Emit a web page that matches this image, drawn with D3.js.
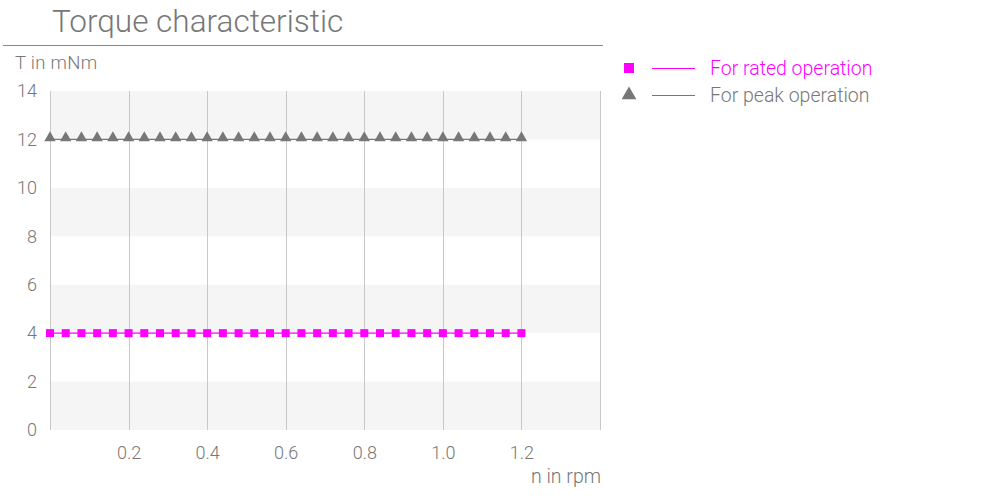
<!DOCTYPE html>
<html><head><meta charset="utf-8">
<script src="https://cdn.jsdelivr.net/npm/d3@7"></script>
<style>body{margin:0;background:#fff;}svg{display:block;font-family:Roboto,"Open Sans",sans-serif;}</style>
</head><body><svg id="c" width="1000" height="500"></svg>
<script>
const speedRpm = [0,0.04,0.08,0.12,0.16,0.2,0.24,0.28,0.32,0.36,0.4,0.44,0.48,0.52,0.56,0.6,0.64,0.68,0.72,0.76,0.8,0.84,0.88,0.92,0.96,1.0,1.04,1.08,1.12,1.16,1.2];
const ratedTorque = [4,4,4,4,4,4,4,4,4,4,4,4,4,4,4,4,4,4,4,4,4,4,4,4,4,4,4,4,4,4,4];
const peakTorque = [12,12,12,12,12,12,12,12,12,12,12,12,12,12,12,12,12,12,12,12,12,12,12,12,12,12,12,12,12,12,12];
const xTicks = [0.2,0.4,0.6,0.8,1.0,1.2];
const xGrid = [0,0.2,0.4,0.6,0.8,1.0,1.2,1.4];
const yTicks = [0,2,4,6,8,10,12,14];
const seriesNames = ["For rated operation","For peak operation"];

const svg = d3.select("#c");
const grey = "#777";
const x = d3.scaleLinear().domain([0,1.4]).range([50,600]);
const y = d3.scaleLinear().domain([0,14]).range([430,91]);

// title
svg.append("text").attr("x",52).attr("y",32).attr("font-size",31.5).attr("font-weight",300).attr("fill",grey).text("Torque characteristic");
svg.append("line").attr("x1",3).attr("x2",603).attr("y1",45.5).attr("y2",45.5).attr("stroke","#888").attr("stroke-width",1);
svg.append("text").attr("x",15).attr("y",69).attr("font-size",18.5).attr("font-weight",300).attr("fill",grey).attr("letter-spacing",0.3).text("T in mNm");

// bands
const bands = [[0,2],[4,6],[8,10],[12,14]];
svg.append("g").selectAll("rect").data(bands).join("rect")
  .attr("x",x(0)).attr("width",x(1.4)-x(0))
  .attr("y",d=>y(d[1])).attr("height",d=>y(d[0])-y(d[1]))
  .attr("fill","#f5f5f5");

// vertical grid
svg.append("g").selectAll("line").data(xGrid).join("line")
  .attr("x1",d=>Math.round(x(d))+0.5).attr("x2",d=>Math.round(x(d))+0.5)
  .attr("y1",y(14)).attr("y2",y(0))
  .attr("stroke","#c8c8c8").attr("stroke-width",1);

// y axis
const ya = svg.append("g").attr("transform","translate(37,0)")
  .call(d3.axisLeft(y).tickValues(yTicks).tickSize(0).tickPadding(0));
ya.select(".domain").remove();
ya.selectAll("text").attr("font-size",18).attr("font-weight",300).attr("fill",grey).attr("font-family","Roboto,sans-serif");

// x axis
const xa = svg.append("g").attr("transform","translate(0,446)")
  .call(d3.axisBottom(x).tickValues(xTicks).tickFormat(d3.format(".1f")).tickSize(0).tickPadding(0));
xa.select(".domain").remove();
xa.selectAll("text").attr("font-size",18).attr("font-weight",300).attr("fill",grey).attr("font-family","Roboto,sans-serif");
svg.append("text").attr("x",601).attr("y",483).attr("text-anchor","end").attr("font-size",19.5).attr("font-weight",300).attr("fill",grey).text("n in rpm");

// series
const line = d3.line().x(d=>x(d[0])).y(d=>y(d[1]));
const peak = speedRpm.map((s,i)=>[s,peakTorque[i]]);
const rated = speedRpm.map((s,i)=>[s,ratedTorque[i]]);
svg.append("path").datum(peak).attr("d",line).attr("fill","none").attr("stroke",grey).attr("stroke-width",1.3);
svg.append("g").selectAll("path").data(peak).join("path")
  .attr("d",d3.symbol(d3.symbolTriangle,56)).attr("transform",d=>`translate(${x(d[0])},${y(d[1])-1.5})`).attr("fill",grey);
svg.append("path").datum(rated).attr("d",line).attr("fill","none").attr("stroke","#ff00ff").attr("stroke-width",1.3);
svg.append("g").selectAll("rect").data(rated).join("rect")
  .attr("x",d=>x(d[0])-4).attr("y",d=>y(d[1])-4).attr("width",8).attr("height",8).attr("fill","#ff00ff");

// legend
const lg = svg.append("g");
const lcol = ["#ff00ff",grey];
seriesNames.forEach((n,i)=>{
  const cy = 68 + i*27;
  if(i===0) lg.append("rect").attr("x",624).attr("y",cy-5).attr("width",10).attr("height",10).attr("fill",lcol[i]);
  else lg.append("path").attr("d",d3.symbol(d3.symbolTriangle,95)).attr("transform",`translate(629,${cy})`).attr("fill",lcol[i]);
  lg.append("line").attr("x1",652).attr("x2",695).attr("y1",cy+0.5).attr("y2",cy+0.5).attr("stroke",lcol[i]).attr("stroke-width",1);
  lg.append("text").attr("x",710).attr("y",cy).attr("dy","0.35em").attr("font-size",19.5).attr("font-weight",300).attr("fill",lcol[i]).text(n);
});
</script></body></html>
